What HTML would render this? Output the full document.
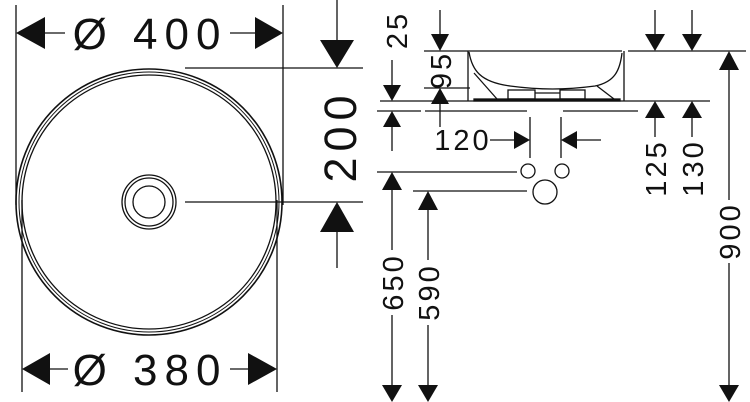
<!DOCTYPE html>
<html><head><meta charset="utf-8"><style>
html,body{margin:0;padding:0;background:#fff;}
svg{display:block;}
text{font-family:"Liberation Sans",sans-serif;fill:#111;}
</style></head><body>
<svg width="750" height="402" viewBox="0 0 750 402" xmlns="http://www.w3.org/2000/svg">
<g stroke="#111" stroke-width="1.3" fill="none">
<line x1="16" y1="5" x2="16" y2="205"/>
<line x1="283" y1="5" x2="283" y2="205"/>
<line x1="22" y1="200" x2="22" y2="392"/>
<line x1="277" y1="200" x2="277" y2="392"/>
<line x1="45" y1="33" x2="65" y2="33"/>
<line x1="230" y1="33" x2="255" y2="33"/>
<line x1="50" y1="369" x2="68" y2="369"/>
<line x1="230" y1="369" x2="248" y2="369"/>
<circle cx="149" cy="202" r="133" stroke-width="1.6"/>
<circle cx="149" cy="202" r="130" stroke-width="1"/>
<circle cx="149" cy="202" r="127" stroke-width="1.3"/>
<circle cx="149" cy="202" r="27"/>
<circle cx="149" cy="202" r="24"/>
<circle cx="149" cy="202" r="16"/>
<line x1="185" y1="68" x2="363" y2="68"/>
<line x1="185" y1="202" x2="363" y2="202"/>
<line x1="337" y1="0" x2="337" y2="45"/>
<line x1="337" y1="230" x2="337" y2="268"/>
<line x1="424" y1="51" x2="622" y2="51"/>
<line x1="628" y1="51" x2="746" y2="51"/>
<line x1="380" y1="101" x2="710" y2="101"/>
<line x1="424" y1="88" x2="470" y2="88"/>
<line x1="377" y1="111" x2="421" y2="111"/>
<line x1="425" y1="111" x2="527" y2="111"/>
<line x1="563" y1="111" x2="638" y2="111"/>
<line x1="468" y1="51" x2="468" y2="101"/>
<line x1="624" y1="51" x2="624" y2="101"/>
<path d="M469,52 C472,70 480,82 510,86 C540,90 565,90 595,86 C615,82 620,70 622,53"/>
<line x1="474" y1="73" x2="497" y2="99"/>
<line x1="597" y1="86" x2="614" y2="99"/>
<rect x="508" y="90" width="27" height="9"/>
<rect x="560" y="90" width="25" height="9"/>
<line x1="535" y1="93" x2="560" y2="93"/>
<rect x="474" y="99" width="146" height="2" fill="#111"/>
<line x1="392" y1="60" x2="392" y2="86"/>
<line x1="392" y1="126" x2="392" y2="151"/>
<line x1="440" y1="10" x2="440" y2="34"/>
<line x1="440" y1="104" x2="440" y2="127"/>
<line x1="530" y1="117" x2="530" y2="158"/>
<line x1="561" y1="117" x2="561" y2="158"/>
<line x1="490" y1="140" x2="515" y2="140"/>
<line x1="576" y1="140" x2="601" y2="140"/>
<circle cx="528" cy="171" r="7"/>
<circle cx="562" cy="171" r="7"/>
<circle cx="545" cy="192" r="12"/>
<line x1="377" y1="172" x2="517" y2="172"/>
<line x1="413" y1="191" x2="527" y2="191"/>
<line x1="655" y1="10" x2="655" y2="34"/>
<line x1="655" y1="117" x2="655" y2="137"/>
<line x1="692" y1="10" x2="692" y2="34"/>
<line x1="692" y1="117" x2="692" y2="137"/>
<line x1="729" y1="68" x2="729" y2="200"/>
<line x1="729" y1="263" x2="729" y2="386"/>
<line x1="392" y1="188" x2="392" y2="250"/>
<line x1="392" y1="315" x2="392" y2="386"/>
<line x1="428" y1="208" x2="428" y2="260"/>
<line x1="428" y1="325" x2="428" y2="386"/>
</g>
<g fill="#111">
<polygon points="16,33 45,17 45,49"/>
<polygon points="283,33 255,17 255,49"/>
<polygon points="22,369 50,353 50,385"/>
<polygon points="277,369 248,353 248,385"/>
<polygon points="337,68 320,40 354,40"/>
<polygon points="337,202 320,232 354,232"/>
<polygon points="392,101 383,85 401,85"/>
<polygon points="392,111 383,127 401,127"/>
<polygon points="440,51 431,34 449,34"/>
<polygon points="440,88 431,104 449,104"/>
<polygon points="530,140 514,131 514,149"/>
<polygon points="561,140 577,131 577,149"/>
<polygon points="655,51 645,34 665,34"/>
<polygon points="692,51 682,34 702,34"/>
<polygon points="655,101 645,118 665,118"/>
<polygon points="692,101 682,118 702,118"/>
<polygon points="729,51 719,70 739,70"/>
<polygon points="729,402 719,385 739,385"/>
<polygon points="392,172 382,190 402,190"/>
<polygon points="428,191 418,210 438,210"/>
<polygon points="392,402 382,385 402,385"/>
<polygon points="428,402 418,385 438,385"/>
</g>
<text x="150" y="49" font-size="44" text-anchor="middle" letter-spacing="7">Ø 400</text>
<text x="150" y="385" font-size="44" text-anchor="middle" letter-spacing="7">Ø 380</text>
<g font-size="29" letter-spacing="3" text-anchor="middle">
<text transform="translate(356,136) rotate(-90)" font-size="45" letter-spacing="6">200</text>
<text transform="translate(407,30) rotate(-90)">25</text>
<text transform="translate(451,70) rotate(-90)">95</text>
<text x="463" y="150" text-anchor="middle">120</text>
<text transform="translate(666,168) rotate(-90)">125</text>
<text transform="translate(703,168) rotate(-90)">130</text>
<text transform="translate(740,231) rotate(-90)">900</text>
<text transform="translate(403,282) rotate(-90)">650</text>
<text transform="translate(439,292) rotate(-90)">590</text>
</g>
</svg>
</body></html>
